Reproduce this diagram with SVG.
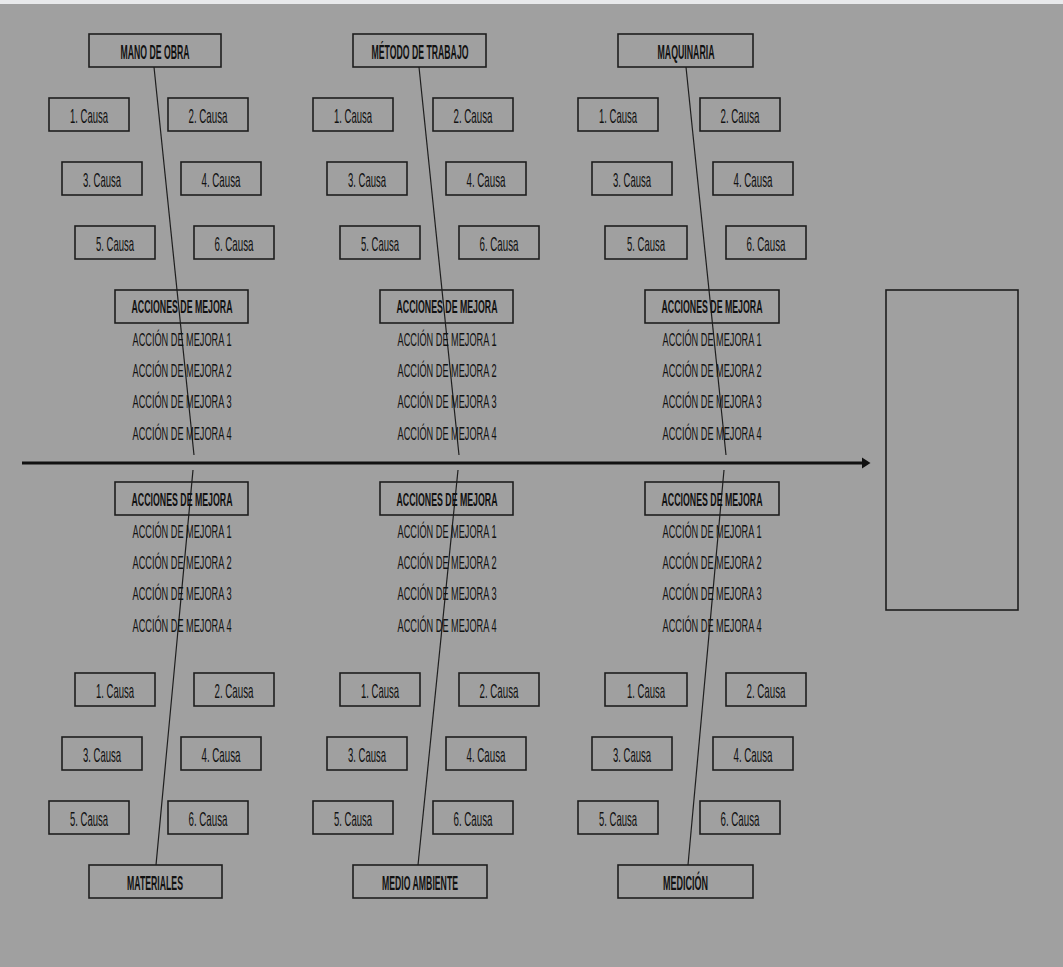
<svg xmlns="http://www.w3.org/2000/svg" width="1063" height="967" viewBox="0 0 1063 967">
<style>
.box{fill:none;stroke:#1e1e1e;stroke-width:1.6}
.ln{stroke:#1e1e1e;stroke-width:1.2;fill:none}
.t{font-family:"Liberation Sans",Arial,sans-serif;font-size:21px;fill:#111;text-anchor:middle}
.h{font-size:21px}
.b{font-weight:bold}
.a{font-family:"Liberation Sans",Arial,sans-serif;font-size:19px;fill:#111;text-anchor:middle}
</style>
<rect x="0" y="0" width="1063" height="967" fill="#a0a0a0"/>
<rect x="0" y="0" width="1063" height="4" fill="#e8e9eb"/>

<g id="connectors">
<line class="ln" x1="154" y1="67" x2="194" y2="455"/>
<line class="ln" x1="193" y1="470" x2="156" y2="865"/>
<line class="ln" x1="419" y1="67" x2="459" y2="455"/>
<line class="ln" x1="458" y1="470" x2="418" y2="865"/>
<line class="ln" x1="686" y1="67" x2="726" y2="455"/>
<line class="ln" x1="724" y1="470" x2="688" y2="865"/>
<line x1="22" y1="463" x2="864" y2="463" stroke="#111" stroke-width="3"/>
<polygon points="862,457.5 870.5,463 862,468.5" fill="#111"/>
</g>

<g id="cat-mano"><rect class="box" x="89" y="34" width="132" height="33"/><text class="t h b" x="155" y="59" textLength="69" lengthAdjust="spacingAndGlyphs">MANO DE OBRA</text></g>
<g id="cat-metodo"><rect class="box" x="353" y="34" width="133" height="33"/><text class="t h b" x="420" y="59" textLength="97" lengthAdjust="spacingAndGlyphs">MÉTODO DE TRABAJO</text></g>
<g id="cat-maquinaria"><rect class="box" x="618" y="34" width="135" height="33"/><text class="t h b" x="686" y="59" textLength="57" lengthAdjust="spacingAndGlyphs">MAQUINARIA</text></g>
<g id="cat-materiales"><rect class="box" x="89" y="865" width="133" height="33"/><text class="t h b" x="155" y="890" textLength="56" lengthAdjust="spacingAndGlyphs">MATERIALES</text></g>
<g id="cat-medio"><rect class="box" x="353" y="865" width="134" height="33"/><text class="t h b" x="420" y="890" textLength="76" lengthAdjust="spacingAndGlyphs">MEDIO AMBIENTE</text></g>
<g id="cat-medicion"><rect class="box" x="618" y="865" width="135" height="33"/><text class="t h b" x="685.5" y="890" textLength="45" lengthAdjust="spacingAndGlyphs">MEDICIÓN</text></g>

<g id="effect"><rect class="box" x="886" y="290" width="132" height="320"/></g>

<g id="causes-top-a">
<rect class="box" x="49" y="98" width="80" height="33"/><text class="t" x="89" y="123" textLength="38" lengthAdjust="spacingAndGlyphs">1. Causa</text>
<rect class="box" x="168" y="98" width="80" height="33"/><text class="t" x="208" y="123" textLength="39" lengthAdjust="spacingAndGlyphs">2. Causa</text>
<rect class="box" x="62" y="162" width="80" height="33"/><text class="t" x="102" y="187" textLength="38" lengthAdjust="spacingAndGlyphs">3. Causa</text>
<rect class="box" x="181" y="162" width="80" height="33"/><text class="t" x="221" y="187" textLength="39" lengthAdjust="spacingAndGlyphs">4. Causa</text>
<rect class="box" x="75" y="226" width="80" height="33"/><text class="t" x="115" y="251" textLength="38" lengthAdjust="spacingAndGlyphs">5. Causa</text>
<rect class="box" x="194" y="226" width="80" height="33"/><text class="t" x="234" y="251" textLength="39" lengthAdjust="spacingAndGlyphs">6. Causa</text>
</g>
<g id="causes-top-b">
<rect class="box" x="313" y="98" width="80" height="33"/><text class="t" x="353" y="123" textLength="38" lengthAdjust="spacingAndGlyphs">1. Causa</text>
<rect class="box" x="433" y="98" width="80" height="33"/><text class="t" x="473" y="123" textLength="39" lengthAdjust="spacingAndGlyphs">2. Causa</text>
<rect class="box" x="327" y="162" width="80" height="33"/><text class="t" x="367" y="187" textLength="38" lengthAdjust="spacingAndGlyphs">3. Causa</text>
<rect class="box" x="446" y="162" width="80" height="33"/><text class="t" x="486" y="187" textLength="39" lengthAdjust="spacingAndGlyphs">4. Causa</text>
<rect class="box" x="340" y="226" width="80" height="33"/><text class="t" x="380" y="251" textLength="38" lengthAdjust="spacingAndGlyphs">5. Causa</text>
<rect class="box" x="459" y="226" width="80" height="33"/><text class="t" x="499" y="251" textLength="39" lengthAdjust="spacingAndGlyphs">6. Causa</text>
</g>
<g id="causes-top-c">
<rect class="box" x="578" y="98" width="80" height="33"/><text class="t" x="618" y="123" textLength="38" lengthAdjust="spacingAndGlyphs">1. Causa</text>
<rect class="box" x="700" y="98" width="80" height="33"/><text class="t" x="740" y="123" textLength="39" lengthAdjust="spacingAndGlyphs">2. Causa</text>
<rect class="box" x="592" y="162" width="80" height="33"/><text class="t" x="632" y="187" textLength="38" lengthAdjust="spacingAndGlyphs">3. Causa</text>
<rect class="box" x="713" y="162" width="80" height="33"/><text class="t" x="753" y="187" textLength="39" lengthAdjust="spacingAndGlyphs">4. Causa</text>
<rect class="box" x="605" y="226" width="82" height="33"/><text class="t" x="646" y="251" textLength="38" lengthAdjust="spacingAndGlyphs">5. Causa</text>
<rect class="box" x="726" y="226" width="80" height="33"/><text class="t" x="766" y="251" textLength="39" lengthAdjust="spacingAndGlyphs">6. Causa</text>
</g>

<g id="causes-bot-a">
<rect class="box" x="75" y="673" width="80" height="33"/><text class="t" x="115" y="698" textLength="38" lengthAdjust="spacingAndGlyphs">1. Causa</text>
<rect class="box" x="194" y="673" width="80" height="33"/><text class="t" x="234" y="698" textLength="39" lengthAdjust="spacingAndGlyphs">2. Causa</text>
<rect class="box" x="62" y="737" width="80" height="33"/><text class="t" x="102" y="762" textLength="38" lengthAdjust="spacingAndGlyphs">3. Causa</text>
<rect class="box" x="181" y="737" width="80" height="33"/><text class="t" x="221" y="762" textLength="39" lengthAdjust="spacingAndGlyphs">4. Causa</text>
<rect class="box" x="49" y="801" width="80" height="33"/><text class="t" x="89" y="826" textLength="38" lengthAdjust="spacingAndGlyphs">5. Causa</text>
<rect class="box" x="168" y="801" width="80" height="33"/><text class="t" x="208" y="826" textLength="39" lengthAdjust="spacingAndGlyphs">6. Causa</text>
</g>
<g id="causes-bot-b">
<rect class="box" x="340" y="673" width="80" height="33"/><text class="t" x="380" y="698" textLength="38" lengthAdjust="spacingAndGlyphs">1. Causa</text>
<rect class="box" x="459" y="673" width="80" height="33"/><text class="t" x="499" y="698" textLength="39" lengthAdjust="spacingAndGlyphs">2. Causa</text>
<rect class="box" x="327" y="737" width="80" height="33"/><text class="t" x="367" y="762" textLength="38" lengthAdjust="spacingAndGlyphs">3. Causa</text>
<rect class="box" x="446" y="737" width="80" height="33"/><text class="t" x="486" y="762" textLength="39" lengthAdjust="spacingAndGlyphs">4. Causa</text>
<rect class="box" x="313" y="801" width="80" height="33"/><text class="t" x="353" y="826" textLength="38" lengthAdjust="spacingAndGlyphs">5. Causa</text>
<rect class="box" x="433" y="801" width="80" height="33"/><text class="t" x="473" y="826" textLength="39" lengthAdjust="spacingAndGlyphs">6. Causa</text>
</g>
<g id="causes-bot-c">
<rect class="box" x="605" y="673" width="82" height="33"/><text class="t" x="646" y="698" textLength="38" lengthAdjust="spacingAndGlyphs">1. Causa</text>
<rect class="box" x="726" y="673" width="80" height="33"/><text class="t" x="766" y="698" textLength="39" lengthAdjust="spacingAndGlyphs">2. Causa</text>
<rect class="box" x="592" y="737" width="80" height="33"/><text class="t" x="632" y="762" textLength="38" lengthAdjust="spacingAndGlyphs">3. Causa</text>
<rect class="box" x="713" y="737" width="80" height="33"/><text class="t" x="753" y="762" textLength="39" lengthAdjust="spacingAndGlyphs">4. Causa</text>
<rect class="box" x="578" y="801" width="80" height="33"/><text class="t" x="618" y="826" textLength="38" lengthAdjust="spacingAndGlyphs">5. Causa</text>
<rect class="box" x="700" y="801" width="80" height="33"/><text class="t" x="740" y="826" textLength="39" lengthAdjust="spacingAndGlyphs">6. Causa</text>
</g>

<g id="acciones-top-a">
<rect class="box" x="115" y="290" width="133" height="33"/><text class="a b" x="182" y="313" textLength="101" lengthAdjust="spacingAndGlyphs">ACCIONES DE MEJORA</text>
<text class="a" x="182" y="346" textLength="99" lengthAdjust="spacingAndGlyphs">ACCIÓN DE MEJORA 1</text>
<text class="a" x="182" y="377" textLength="99" lengthAdjust="spacingAndGlyphs">ACCIÓN DE MEJORA 2</text>
<text class="a" x="182" y="408" textLength="99" lengthAdjust="spacingAndGlyphs">ACCIÓN DE MEJORA 3</text>
<text class="a" x="182" y="440" textLength="99" lengthAdjust="spacingAndGlyphs">ACCIÓN DE MEJORA 4</text>
</g>
<g id="acciones-top-b">
<rect class="box" x="380" y="290" width="133" height="33"/><text class="a b" x="447" y="313" textLength="101" lengthAdjust="spacingAndGlyphs">ACCIONES DE MEJORA</text>
<text class="a" x="447" y="346" textLength="99" lengthAdjust="spacingAndGlyphs">ACCIÓN DE MEJORA 1</text>
<text class="a" x="447" y="377" textLength="99" lengthAdjust="spacingAndGlyphs">ACCIÓN DE MEJORA 2</text>
<text class="a" x="447" y="408" textLength="99" lengthAdjust="spacingAndGlyphs">ACCIÓN DE MEJORA 3</text>
<text class="a" x="447" y="440" textLength="99" lengthAdjust="spacingAndGlyphs">ACCIÓN DE MEJORA 4</text>
</g>
<g id="acciones-top-c">
<rect class="box" x="645" y="290" width="134" height="33"/><text class="a b" x="712" y="313" textLength="101" lengthAdjust="spacingAndGlyphs">ACCIONES DE MEJORA</text>
<text class="a" x="712" y="346" textLength="99" lengthAdjust="spacingAndGlyphs">ACCIÓN DE MEJORA 1</text>
<text class="a" x="712" y="377" textLength="99" lengthAdjust="spacingAndGlyphs">ACCIÓN DE MEJORA 2</text>
<text class="a" x="712" y="408" textLength="99" lengthAdjust="spacingAndGlyphs">ACCIÓN DE MEJORA 3</text>
<text class="a" x="712" y="440" textLength="99" lengthAdjust="spacingAndGlyphs">ACCIÓN DE MEJORA 4</text>
</g>
<g id="acciones-bot-a">
<rect class="box" x="115" y="482" width="133" height="33"/><text class="a b" x="182" y="506" textLength="101" lengthAdjust="spacingAndGlyphs">ACCIONES DE MEJORA</text>
<text class="a" x="182" y="538" textLength="99" lengthAdjust="spacingAndGlyphs">ACCIÓN DE MEJORA 1</text>
<text class="a" x="182" y="569" textLength="99" lengthAdjust="spacingAndGlyphs">ACCIÓN DE MEJORA 2</text>
<text class="a" x="182" y="600" textLength="99" lengthAdjust="spacingAndGlyphs">ACCIÓN DE MEJORA 3</text>
<text class="a" x="182" y="632" textLength="99" lengthAdjust="spacingAndGlyphs">ACCIÓN DE MEJORA 4</text>
</g>
<g id="acciones-bot-b">
<rect class="box" x="380" y="482" width="133" height="33"/><text class="a b" x="447" y="506" textLength="101" lengthAdjust="spacingAndGlyphs">ACCIONES DE MEJORA</text>
<text class="a" x="447" y="538" textLength="99" lengthAdjust="spacingAndGlyphs">ACCIÓN DE MEJORA 1</text>
<text class="a" x="447" y="569" textLength="99" lengthAdjust="spacingAndGlyphs">ACCIÓN DE MEJORA 2</text>
<text class="a" x="447" y="600" textLength="99" lengthAdjust="spacingAndGlyphs">ACCIÓN DE MEJORA 3</text>
<text class="a" x="447" y="632" textLength="99" lengthAdjust="spacingAndGlyphs">ACCIÓN DE MEJORA 4</text>
</g>
<g id="acciones-bot-c">
<rect class="box" x="645" y="482" width="134" height="33"/><text class="a b" x="712" y="506" textLength="101" lengthAdjust="spacingAndGlyphs">ACCIONES DE MEJORA</text>
<text class="a" x="712" y="538" textLength="99" lengthAdjust="spacingAndGlyphs">ACCIÓN DE MEJORA 1</text>
<text class="a" x="712" y="569" textLength="99" lengthAdjust="spacingAndGlyphs">ACCIÓN DE MEJORA 2</text>
<text class="a" x="712" y="600" textLength="99" lengthAdjust="spacingAndGlyphs">ACCIÓN DE MEJORA 3</text>
<text class="a" x="712" y="632" textLength="99" lengthAdjust="spacingAndGlyphs">ACCIÓN DE MEJORA 4</text>
</g>
</svg>
